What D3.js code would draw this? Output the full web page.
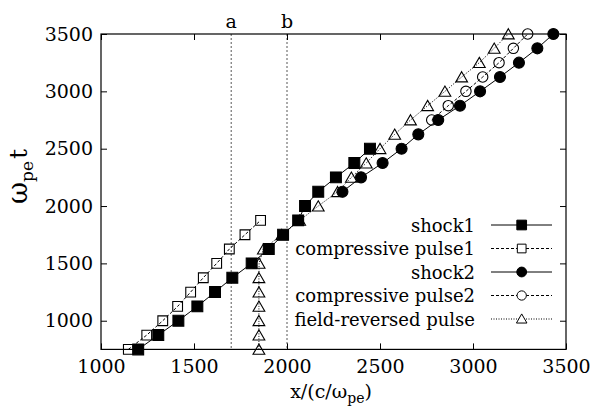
<!DOCTYPE html>
<html>
<head>
<meta charset="utf-8">
<script src="https://cdn.jsdelivr.net/npm/d3@7"></script>
<style>
  body { margin: 0; background: #fff; }
</style>
</head>
<body>
<div id="chart"></div>
<script>
// time steps (omega_pe t) and front positions x/(c/omega_pe)
const tShock1 = [750, 875, 1000, 1125, 1250, 1375, 1500, 1625, 1750, 1875, 2000, 2125, 2250, 2375, 2500];
const xShock1 = [1200, 1308, 1416, 1518, 1613, 1706, 1810, 1902, 1979, 2060, 2097, 2168, 2263, 2362, 2446];

const tPulse1 = [750, 875, 1000, 1125, 1250, 1375, 1500, 1625, 1750, 1875];
const xPulse1 = [1147, 1246, 1332, 1412, 1482, 1550, 1622, 1690, 1774, 1858];

const tShock2 = [2125, 2250, 2375, 2500, 2625, 2750, 2875, 3000, 3125, 3250, 3375, 3500];
const xShock2 = [2298, 2398, 2514, 2616, 2706, 2813, 2930, 3038, 3145, 3247, 3346, 3432];

const tPulse2 = [2750, 2875, 3000, 3125, 3250, 3375, 3500];
const xPulse2 = [2778, 2867, 2962, 3052, 3140, 3217, 3294];

const tReversed = [750, 875, 1000, 1125, 1250, 1375, 1500, 1625, 1750, 1875, 2000, 2125, 2250, 2375, 2500, 2625, 2750, 2875, 3000, 3125, 3250, 3375, 3500];
const xReversed = [1849, 1849, 1849, 1849, 1849, 1849, 1850, 1873, 1972, 2068, 2168, 2272, 2346, 2426, 2500, 2579, 2664, 2756, 2849, 2939, 3034, 3114, 3190];

const xTicks = [1000, 1500, 2000, 2500, 3000, 3500];
const yTicks = [1000, 1500, 2000, 2500, 3000, 3500];
const markLines = [{ x: 1700, label: "a" }, { x: 2000, label: "b" }];

const series = [
  { name: "shock1", t: tShock1, x: xShock1, dash: null, sym: d3.symbolSquare, size: 118, fill: "#000" },
  { name: "compressive pulse1", t: tPulse1, x: xPulse1, dash: "3,2", sym: d3.symbolSquare, size: 95, fill: "none" },
  { name: "shock2", t: tShock2, x: xShock2, dash: null, sym: d3.symbolCircle, size: 95, fill: "#000" },
  { name: "compressive pulse2", t: tPulse2, x: xPulse2, dash: "3,2", sym: d3.symbolCircle, size: 85, fill: "none" },
  { name: "field-reversed pulse", t: tReversed, x: xReversed, dash: "1,1.5", sym: d3.symbolTriangle, size: 60, fill: "none" }
];

const W = 599, H = 408;
const serif = "DejaVu Serif";
const svg = d3.select("#chart").append("svg")
  .attr("width", W).attr("height", H)
  .attr("font-family", serif);

const x = d3.scaleLinear().domain([1000, 3500]).range([101, 566]);
const y = d3.scaleLinear().domain([750, 3500]).range([349.4, 34]);

// dotted reference lines a, b
markLines.forEach(m => {
  svg.append("line")
    .attr("x1", x(m.x)).attr("x2", x(m.x))
    .attr("y1", y(3500)).attr("y2", y(750))
    .attr("stroke", "#444").attr("stroke-width", 0.9)
    .attr("stroke-dasharray", "2,2");
  svg.append("text")
    .attr("x", x(m.x)).attr("y", 28)
    .attr("text-anchor", "middle")
    .attr("font-size", 19)
    .text(m.label);
});

// axes, ticks pointing inward
const fs = 19;
const gB = svg.append("g").attr("transform", `translate(0,${y(750)})`)
  .call(d3.axisBottom(x).tickValues(xTicks).tickSizeInner(-6).tickSizeOuter(0).tickPadding(10).tickFormat(d3.format("d")));
const gT = svg.append("g").attr("transform", `translate(0,${y(3500)})`)
  .call(d3.axisTop(x).tickValues(xTicks).tickSizeInner(-6).tickSizeOuter(0).tickFormat(""));
const gL = svg.append("g").attr("transform", `translate(${x(1000)},0)`)
  .call(d3.axisLeft(y).tickValues(yTicks).tickSizeInner(-6).tickSizeOuter(0).tickPadding(8).tickFormat(d3.format("d")));
const gR = svg.append("g").attr("transform", `translate(${x(3500)},0)`)
  .call(d3.axisRight(y).tickValues(yTicks).tickSizeInner(-6).tickSizeOuter(0).tickFormat(""));

[gB, gT, gL, gR].forEach(g => {
  g.attr("font-family", serif).attr("font-size", fs);
  g.select(".domain").remove();
  g.selectAll(".tick line").attr("stroke", "#000");
  g.selectAll(".tick text").attr("fill", "#000");
});

svg.append("rect")
  .attr("x", x(1000)).attr("y", y(3500))
  .attr("width", x(3500) - x(1000)).attr("height", y(750) - y(3500))
  .attr("fill", "none").attr("stroke", "#000").attr("stroke-width", 1.2);

// series lines and markers
const line = d3.line().x(d => x(d[0])).y(d => y(d[1]));

series.forEach(s => {
  const pts = s.t.map((t, i) => [s.x[i], t]);
  svg.append("path")
    .datum(pts)
    .attr("d", line)
    .attr("fill", "none")
    .attr("stroke", "#000")
    .attr("stroke-width", 1)
    .attr("stroke-dasharray", s.dash);
  svg.append("g").selectAll("path")
    .data(pts)
    .join("path")
    .attr("transform", d => `translate(${x(d[0])},${y(d[1]) + (s.sym === d3.symbolTriangle ? 1.5 : 0)})`)
    .attr("d", d3.symbol().type(s.sym).size(s.size))
    .attr("fill", s.fill)
    .attr("stroke", "#000")
    .attr("stroke-width", 1.1);
});

// legend
const legX = 475, legL0 = 491, legL1 = 552, legM = 521.7;
const rowY = [225, 248.5, 272, 295.5, 319];
series.forEach((s, i) => {
  const ry = rowY[i];
  svg.append("text")
    .attr("x", legX).attr("y", ry + 6.5)
    .attr("text-anchor", "end")
    .attr("font-size", 18)
    .text(s.name);
  svg.append("line")
    .attr("x1", legL0).attr("x2", legL1)
    .attr("y1", ry).attr("y2", ry)
    .attr("stroke", "#000").attr("stroke-width", 1)
    .attr("stroke-dasharray", s.dash);
  svg.append("path")
    .attr("transform", `translate(${legM},${ry + (s.sym === d3.symbolTriangle ? 1 : 0)})`)
    .attr("d", d3.symbol().type(s.sym).size(s.size * 0.8))
    .attr("fill", s.fill === "none" ? "#fff" : s.fill)
    .attr("stroke", "#000")
    .attr("stroke-width", 1);
});

// axis titles
const xl = svg.append("text")
  .attr("x", 331).attr("y", 398)
  .attr("text-anchor", "middle")
  .attr("font-size", fs);
xl.append("tspan").text("x/(c/ω");
xl.append("tspan").attr("font-size", 14).attr("dy", 5).text("pe");
xl.append("tspan").attr("dy", -5).text(")");

const yl = svg.append("text")
  .attr("transform", "translate(27,204) rotate(-90)")
  .attr("text-anchor", "start")
  .attr("font-size", 27);
yl.append("tspan").text("ω");
yl.append("tspan").attr("font-size", 17).attr("dy", 6).text("pe");
yl.append("tspan").attr("dy", -6).attr("dx", 2).attr("font-size", 25).text("t");
</script>
</body>
</html>
